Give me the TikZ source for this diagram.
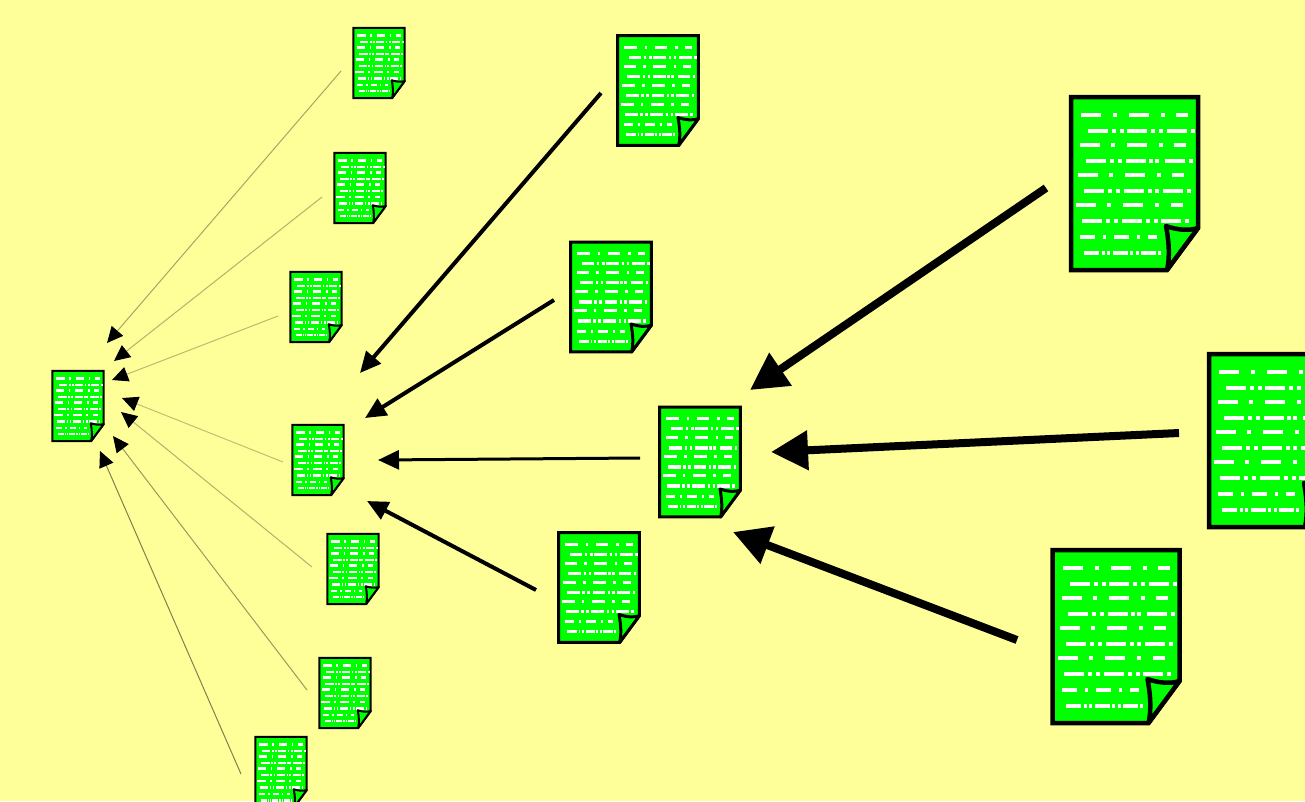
\documentclass[tikz,border=0pt]{standalone}
\usetikzlibrary{arrows.meta}
\definecolor{bgyellow}{HTML}{FFFF99}
\definecolor{pagegreen}{HTML}{00FF00}
\tikzset{
  pagebox/.style={inner sep=0pt,outer sep=0pt,minimum width=#1*127pt,minimum height=#1*173pt},
  thinwire/.style={draw=#1,line width=1pt,-{Triangle[length=16pt,width=15pt,color=black]}},
  midwire/.style={draw=black,line width=4pt,-{Triangle[length=21pt,width=19pt]}},
  fatwire/.style={draw=black,line width=8pt,-{Triangle[length=37pt,width=38pt]}},
  pics/pagedoc/.style n args={3}{code={
    \begin{scope}[scale=#1,shift={(-63.5,-86.5)}]
      \filldraw[fill=pagegreen,draw=black,line width=#2,line join=miter]
        (0,0) -- (127,0) -- (127,131) -- (96,173) -- (0,173) -- cycle;
      % text rows, x ranges are in page units
      \foreach \rowy/\rowx in {
        18.3/{10.3/30.3,42.3/46.3,58.3/78.3,90.3/94.3,105.3/117.3},
        34.3/{17.3/37.3,41.3/45.3,49.3/53.3,56.3/76.3,80.3/84.3,88.3/92.3,96.3/116.3,120.3/124.3},
        48.3/{9.3/29.3,40.3/44.3,56.3/76.3,88.3/92.3,103.3/115.3},
        64.3/{15.3/35.3,39.3/43.3,47.3/51.3,55.3/75.3,78.3/82.3,84.3/88.3,94.3/114.3,118.3/122.3},
        78.3/{7.3/27.3,38.3/42.3,54.3/74.3,86.3/90.3,101.3/113.3},
        94.3/{13.3/33.3,37.3/41.3,45.3/49.3,53.3/73.3,77.3/81.3,84.3/88.3,92.3/112.3,116.3/120.3},
        108.3/{5.3/25.3,36.3/40.3,52.3/72.3,84.3/88.3,100.3/112.3},
        124.3/{11.3/31.3,35.3/39.3,43.3/47.3,51.3/71.3,75.3/79.3,83.3/87.3,90.3/110.3,114.3/118.3},
        140.3/{9.3/24.3,32.3/35.3,43.3/58.3,66.3/69.3,77.3/86.3},
        156.3/{13.3/28.3,31.3/34.3,36.3/39.3,42.3/57.3,59.3/62.3,65.3/68.3,70.3/85.3,87.3/90.3}}{
        \foreach \xa/\xb in \rowx
          \fill[white] (\xa,\rowy-#3) rectangle (\xb,\rowy+#3);
      }
      % folded corner
      \filldraw[fill=pagegreen,draw=black,line width=#2,line join=round]
        (96,173) .. controls (99,160) and (98,145) .. (95,129)
        .. controls (106,133) and (118,134) .. (127,131) -- cycle;
    \end{scope}
  }}
}
\newcommand{\docnode}[5]{%
  \node[pagebox=#3] (#1) at (#2) {};
  \pic at (#1.center) {pagedoc={#3}{#4}{#5}};
}
\begin{document}
\begin{tikzpicture}[x=1pt,y=-1pt]
  \fill[bgyellow] (0,0) rectangle (1305,801);
  \useasboundingbox (0,0) rectangle (1305,801);

  % Small pages
  \docnode{target}{78,406}{0.405}{2pt}{3}
  \docnode{aone}{379,63}{0.405}{2pt}{3}
  \docnode{atwo}{360,188}{0.405}{2pt}{3}
  \docnode{athree}{316,307}{0.405}{2pt}{3}
  \docnode{centre}{318,460}{0.405}{2pt}{3}
  \docnode{afive}{353,569}{0.405}{2pt}{3}
  \docnode{asix}{345,693}{0.405}{2pt}{3}
  \docnode{aseven}{281,772}{0.405}{2pt}{3}

  % Middle pages
  \docnode{bone}{658,90.5}{0.635}{3pt}{2.5}
  \docnode{btwo}{611,297}{0.635}{3pt}{2.5}
  \docnode{hub}{700,462}{0.635}{3pt}{2.5}
  \docnode{bfour}{599,587.5}{0.635}{3pt}{2.5}

  % Large pages
  \docnode{rone}{1134.5,183.5}{1}{4.5pt}{2}
  \docnode{rtwo}{1272.5,440.5}{1}{4.5pt}{2}
  \docnode{rthree}{1116,636.5}{1}{4.5pt}{2}

  % Thin arrows into the left page
  \draw[thinwire=black!35!bgyellow] ([shift={(-38,8)}]aone.center) -- ([shift={(29,-63)}]target.center);
  \draw[thinwire=black!30!bgyellow] ([shift={(-38,9)}]atwo.center) -- ([shift={(36,-45)}]target.center);
  \draw[thinwire=black!27!bgyellow] ([shift={(-38,9)}]athree.center) -- ([shift={(34,-26)}]target.center);
  \draw[thinwire=black!25!bgyellow] ([shift={(-35,2)}]centre.center) -- ([shift={(44,-8)}]target.center);
  \draw[thinwire=black!30!bgyellow] ([shift={(-41,-2)}]afive.center) -- ([shift={(43,6)}]target.center);
  \draw[thinwire=black!40!bgyellow] ([shift={(-38,-3)}]asix.center) -- ([shift={(35,30)}]target.center);
  \draw[thinwire=black!50!bgyellow] ([shift={(-40,2)}]aseven.center) -- ([shift={(22,45)}]target.center);

  % Middle arrows
  \draw[midwire] ([shift={(-57,2.5)}]bone.center) -- ([shift={(42,-87)}]centre.center);
  \draw[midwire] ([shift={(-57,3)}]btwo.center) -- ([shift={(47,-42)}]centre.center);
  \draw[midwire,line width=3pt] ([shift={(-60,-4)}]hub.center) -- ([shift={(60,0)}]centre.center);
  \draw[midwire] ([shift={(-63,2.5)}]bfour.center) -- ([shift={(49,41)}]centre.center);

  % Fat arrows
  \draw[fatwire] ([shift={(-88.5,4.5)}]rone.center) -- ([shift={(50,-72)}]hub.center);
  \draw[fatwire] ([shift={(-93.5,-7.5)}]rtwo.center) -- ([shift={(71,-10)}]hub.center);
  \draw[fatwire] ([shift={(-99,3.5)}]rthree.center) -- ([shift={(33,70)}]hub.center);
\end{tikzpicture}
\end{document}
